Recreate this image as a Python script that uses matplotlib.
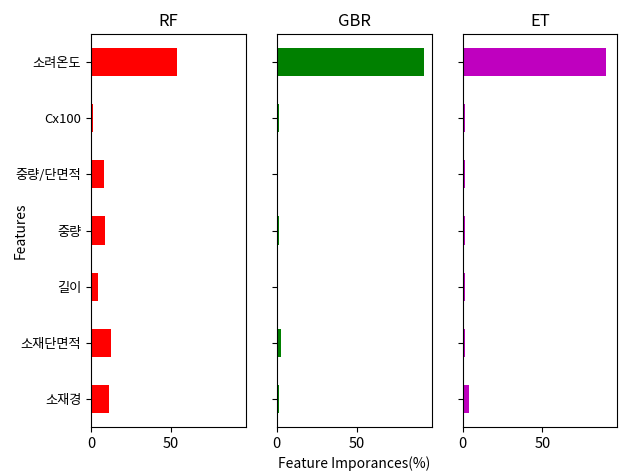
import numpy as np
import matplotlib
matplotlib.use('Agg')
import matplotlib.pyplot as plt

plt.rcParams['font.family'] = ['Noto Sans CJK KR', 'DejaVu Sans']

# 아래에서 위 순서 (barh)
features = ['소재경', '소재단면적', '길이', '중량', '중량/단면적', 'Cx100', '소려온도']
rf = [11.5, 12.3, 4.2, 9.0, 8.3, 1.3, 53.8]
gbr = [1.5, 2.9, 0.05, 1.3, 0.05, 1.3, 92.2]
et = [3.8, 1.5, 1.45, 1.45, 1.5, 1.8, 90.0]

models = ['RF', 'GBR', 'ET']
values = [rf, gbr, et]
colors = ['red', 'green', 'm']

fig, axes = plt.subplots(1, 3, sharex=True, sharey=True, figsize=(6.22, 4.72), dpi=100)
fig.subplots_adjust(left=0.1463, right=0.9925, bottom=0.0953, top=0.928, wspace=0.2)

y = np.arange(len(features))
for ax, name, vals, c in zip(axes, models, values, colors):
    ax.barh(y, vals, height=0.5, color=c)
    ax.set_title(name, fontsize=12)
    ax.tick_params(axis='y', labelsize=9.5)
    ax.tick_params(axis='x', labelsize=10.5)

axes[0].set_yticks(y)
axes[0].set_yticklabels(features)
axes[0].set_ylabel('Features')
axes[0].yaxis.set_label_coords(-0.41, 0.5)
axes[0].set_ylim(-0.5, len(features) - 0.5)
axes[1].set_xlabel('Feature Imporances(%)')

fig.savefig('out.png', dpi=100)
